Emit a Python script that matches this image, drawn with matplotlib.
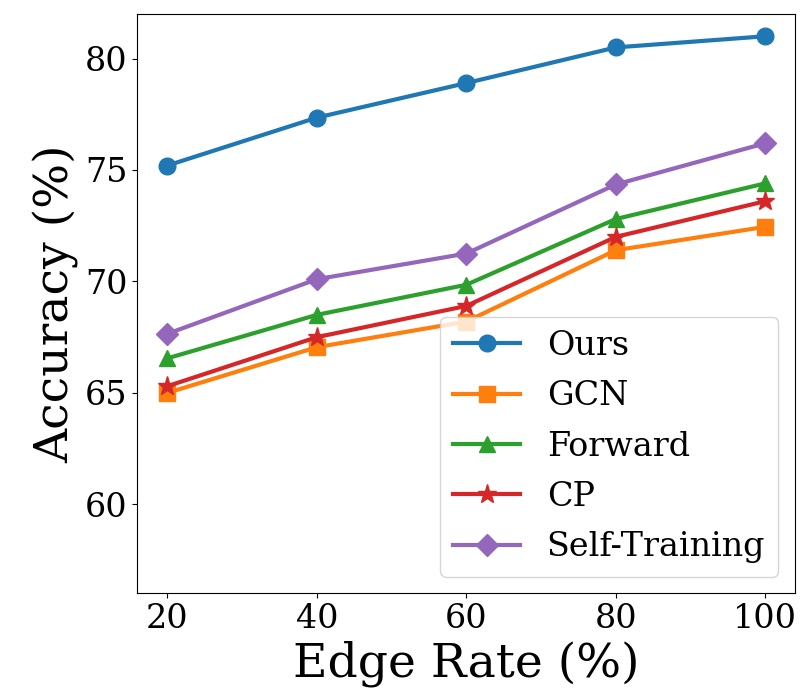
import matplotlib
matplotlib.use("Agg")
from matplotlib import pyplot as plt

# Values
edge_rate = [20, 40, 60, 80, 100]
ours = [75.2, 77.35, 78.9, 80.5, 81.0]
gcn = [65.0, 67.05, 68.2, 71.4, 72.45]
forward = [66.55, 68.5, 69.85, 72.8, 74.4]
cp = [65.3, 67.5, 68.9, 72.0, 73.6]
self_training = [67.65, 70.1, 71.25, 74.35, 76.2]

plt.rcParams['font.family'] = 'DejaVu Serif'

fig = plt.figure(figsize=(8.04, 6.99), dpi=100)
ax = fig.add_axes([0.171, 0.151, 0.818, 0.829])

ax.plot(edge_rate, ours, marker='o', lw=3, ms=12, label='Ours')
ax.plot(edge_rate, gcn, marker='s', lw=3, ms=12, label='GCN')
ax.plot(edge_rate, forward, marker='^', lw=3, ms=12, label='Forward')
ax.plot(edge_rate, cp, marker='*', lw=3, ms=14, label='CP')
ax.plot(edge_rate, self_training, marker='D', lw=3, ms=11, label='Self-Training')

ax.set_ylim(56, 82)
ax.set_xticks(edge_rate)
ax.set_yticks([60, 65, 70, 75, 80])
ax.tick_params(labelsize=24)
ax.set_xlabel('Edge Rate (%)', fontsize=34)
ax.set_ylabel('Accuracy (%)', fontsize=34)
ax.legend(loc='lower right', fontsize=24, labelspacing=0.55, handlelength=2.0)

fig.savefig('out.png', dpi=100)
